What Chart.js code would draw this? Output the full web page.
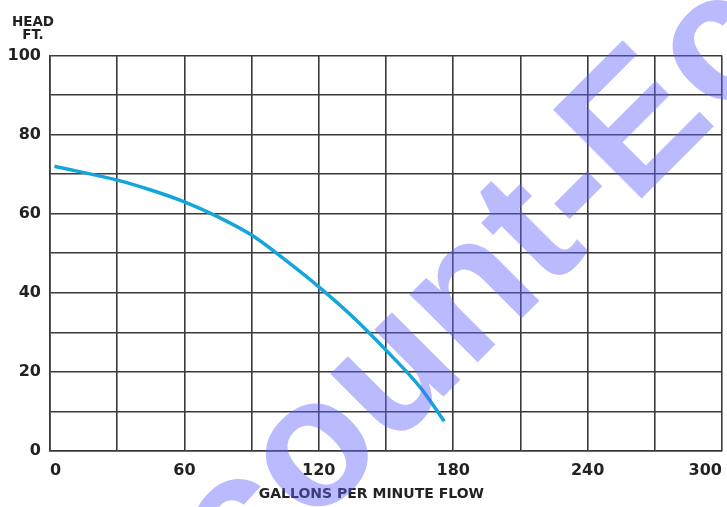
<!DOCTYPE html>
<html>
<head>
<meta charset="utf-8">
<script src="https://cdn.jsdelivr.net/npm/chart.js@4.4.1/dist/chart.umd.min.js"></script>
<style>
  body { margin: 0; background: #fff; }
  #wrap { position: relative; width: 727px; height: 507px; }
  #headLabel {
    position: absolute; left: 8px; top: 15px; width: 50px;
    text-align: center; font: bold 13.5px "DejaVu Sans"; line-height: 13px; color: #222;
  }
</style>
</head>
<body>
<div id="wrap">
  <canvas id="pumpChart" width="727" height="507"></canvas>
  <div id="headLabel">HEAD<br>FT.</div>
</div>
<script>
// pump curve
var flowGpm = [2, 30, 45, 60, 75, 90, 105, 120, 135, 150, 165, 176];
var headFt = [72, 68.5, 66, 63, 59.2, 54.6, 48.3, 41.5, 34, 25.5, 16.3, 7.5];

var xTickLabels = [0, 60, 120, 180, 240, 300];
var yTickLabels = [0, 20, 40, 60, 80, 100];
var watermarkText = "Discount-Eco";

var points = [];
for (var i = 0; i < flowGpm.length; i++) {
    points.push({x: flowGpm[i], y: headFt[i]});
}

var watermark = {
    id: 'watermark',
    afterDraw: function(chart) {
        var ctx = chart.ctx;
        ctx.save();
        ctx.font = 'bold 182px "Liberation Sans"';
        var skip = ctx.measureText("Dis").width;
        ctx.translate(240, 600);
        ctx.rotate(-Math.PI / 4);
        ctx.fillStyle = 'rgba(95, 95, 255, 0.43)';
        ctx.textBaseline = 'alphabetic';
        ctx.fillText(watermarkText, -skip, 0);
        ctx.restore();
    }
};

var ctx = document.getElementById('pumpChart');
var pumpChart = new Chart(ctx, {
    type: 'scatter',
    data: {
        datasets: [{
            label: 'Head',
            data: points,
            showLine: true,
            borderColor: '#14a6d9',
            borderWidth: 3.5,
            pointRadius: 0,
            tension: 0.35,
            fill: false
        }]
    },
    options: {
        responsive: false,
        animation: false,
        layout: {padding: {left: 0, right: 5, top: 55.5, bottom: 4}},
        plugins: {
            legend: {display: false},
            tooltip: {enabled: false}
        },
        scales: {
            x: {
                type: 'linear',
                min: 0,
                max: 300,
                afterFit: function(scale) {
                    scale.height = 52;
                    scale.paddingLeft = 0;
                    scale.paddingRight = 0;
                },
                border: {color: '#3a3a3a', width: 1.6},
                grid: {color: '#3a3a3a', lineWidth: 1.6, drawTicks: false},
                ticks: {
                    stepSize: 30,
                    align: 'inner',
                    padding: 10,
                    color: '#222',
                    font: {family: 'DejaVu Sans', size: 16, weight: 'bold'},
                    callback: function(v) { return xTickLabels.indexOf(v) >= 0 ? v : ''; }
                },
                title: {
                    display: true,
                    // trailing spaces nudge the centred title a bit left, like the original
                    text: 'GALLONS PER MINUTE FLOW\u00a0\u00a0\u00a0\u00a0\u00a0\u00a0',
                    color: '#222',
                    padding: {top: 2, bottom: 0},
                    font: {family: 'DejaVu Sans', size: 14, weight: 'bold'}
                }
            },
            y: {
                min: 0,
                max: 100,
                afterFit: function(scale) { scale.width = 50; },
                border: {color: '#3a3a3a', width: 1.6},
                grid: {color: '#3a3a3a', lineWidth: 1.6, drawTicks: false},
                ticks: {
                    stepSize: 10,
                    padding: 9,
                    color: '#222',
                    font: {family: 'DejaVu Sans', size: 16, weight: 'bold'},
                    callback: function(v) { return yTickLabels.indexOf(v) >= 0 ? v : ''; }
                }
            }
        }
    },
    plugins: [watermark]
});
</script>
</body>
</html>
